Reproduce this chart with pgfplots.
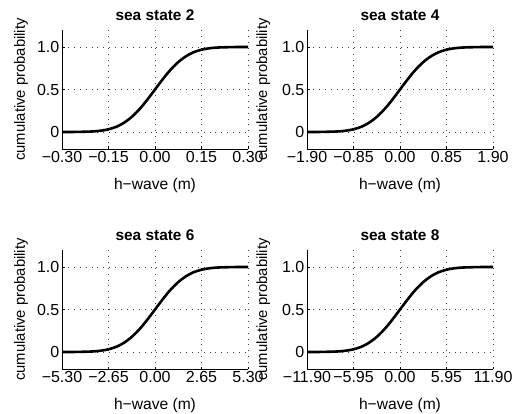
\documentclass[border=0pt]{standalone}
\usepackage{fontspec}
\setmainfont{Liberation Sans}
\usepackage{pgfplots}
\pgfplotsset{compat=1.18}

% shared look of the four panels (MATLAB-like, box off)
\pgfplotsset{
  cdf/.style={
    scale only axis,
    width=186pt, height=119pt,
    anchor=south west,
    axis lines=left,
    axis line style={-, line width=0.8pt, black},
    tick align=inside,
    major tick length=2.5pt,
    tick style={black, line width=0.6pt},
    ymin=-0.2, ymax=1.2,
    ytick={0,0.5,1}, yticklabels={0,0.5,1.0},
    xmajorgrids, ymajorgrids,
    grid style={black!75, line width=0.7pt, dash pattern=on 0.9pt off 5pt},
    clip=false,
    tick label style={font=\fontsize{16}{19}\selectfont},
    xticklabel style={inner sep=2.5pt},
    yticklabel style={inner sep=2.5pt},
    every axis x label/.style={at={(axis description cs:0.5,-0.31)}, anchor=center,
      font=\fontsize{15.6}{18}\selectfont},
    every axis y label/.style={at={(axis description cs:-0.22,0.5)}, anchor=center, rotate=90,
      font=\fontsize{14.8}{17}\selectfont},
    every axis title/.style={at={(axis description cs:0.5,1.126)}, anchor=center,
      font=\fontsize{15.4}{18}\selectfont\bfseries},
    xlabel={h−wave (m)},
    ylabel={cumulative probability},
  },
  cdfline/.style={black, line width=2.6pt, smooth},
}

\begin{document}
\begin{tikzpicture}
\path[use as bounding box] (0,0) rectangle (513pt,414pt);

% sea state 2
\begin{axis}[cdf, at={(62pt,265pt)}, title={sea state 2},
  xmin=-0.30, xmax=0.30,
  xtick={-0.30,-0.15,0,0.15,0.30},
  xticklabels={−0.30,−0.15,0.00,0.15,0.30}]
\addplot[cdfline] coordinates {
(-0.30,0.000)(-0.27,0.000)(-0.24,0.002)(-0.21,0.005)(-0.195,0.008)(-0.18,0.013)
(-0.165,0.021)(-0.15,0.032)(-0.135,0.048)(-0.12,0.069)(-0.105,0.098)(-0.09,0.134)
(-0.075,0.178)(-0.06,0.230)(-0.045,0.289)(-0.03,0.356)(-0.015,0.427)(0,0.500)
(0.015,0.573)(0.03,0.644)(0.045,0.711)(0.06,0.770)(0.075,0.822)(0.09,0.866)
(0.105,0.902)(0.12,0.931)(0.135,0.952)(0.15,0.968)(0.165,0.979)(0.18,0.987)
(0.195,0.992)(0.21,0.995)(0.24,0.998)(0.27,1.000)(0.30,1.000)};
\end{axis}

% sea state 4
\begin{axis}[cdf, at={(307pt,265pt)}, title={sea state 4},
  every axis y label/.append style={at={(axis description cs:-0.235,0.5)}},
  xmin=-1.90, xmax=1.90,
  xtick={-1.90,-0.95,0,0.95,1.90},
  xticklabels={−1.90,−0.85,0.00,0.85,1.90}]
\addplot[cdfline] coordinates {
(-1.90,0.000)(-1.71,0.000)(-1.52,0.002)(-1.33,0.005)(-1.235,0.008)(-1.14,0.013)
(-1.045,0.021)(-0.95,0.032)(-0.855,0.048)(-0.76,0.069)(-0.665,0.098)(-0.57,0.134)
(-0.475,0.178)(-0.38,0.230)(-0.285,0.289)(-0.19,0.356)(-0.095,0.427)(0,0.500)
(0.095,0.573)(0.19,0.644)(0.285,0.711)(0.38,0.770)(0.475,0.822)(0.57,0.866)
(0.665,0.902)(0.76,0.931)(0.855,0.952)(0.95,0.968)(1.045,0.979)(1.14,0.987)
(1.235,0.992)(1.33,0.995)(1.52,0.998)(1.71,1.000)(1.90,1.000)};
\end{axis}

% sea state 6
\begin{axis}[cdf, at={(62pt,45pt)}, title={sea state 6},
  xmin=-5.30, xmax=5.30,
  xtick={-5.30,-2.65,0,2.65,5.30},
  xticklabels={−5.30,−2.65,0.00,2.65,5.30}]
\addplot[cdfline] coordinates {
(-5.30,0.000)(-4.77,0.000)(-4.24,0.002)(-3.71,0.005)(-3.445,0.008)(-3.18,0.013)
(-2.915,0.021)(-2.65,0.032)(-2.385,0.048)(-2.12,0.069)(-1.855,0.098)(-1.59,0.134)
(-1.325,0.178)(-1.06,0.230)(-0.795,0.289)(-0.53,0.356)(-0.265,0.427)(0,0.500)
(0.265,0.573)(0.53,0.644)(0.795,0.711)(1.06,0.770)(1.325,0.822)(1.59,0.866)
(1.855,0.902)(2.12,0.931)(2.385,0.952)(2.65,0.968)(2.915,0.979)(3.18,0.987)
(3.445,0.992)(3.71,0.995)(4.24,0.998)(4.77,1.000)(5.30,1.000)};
\end{axis}

% sea state 8
\begin{axis}[cdf, at={(307pt,45pt)}, title={sea state 8},
  every axis y label/.append style={at={(axis description cs:-0.235,0.5)}},
  xmin=-11.90, xmax=11.90,
  xtick={-11.90,-5.95,0,5.95,11.90},
  xticklabels={−11.90,−5.95,0.00,5.95,11.90}]
\addplot[cdfline] coordinates {
(-11.90,0.000)(-10.71,0.000)(-9.52,0.002)(-8.33,0.005)(-7.735,0.008)(-7.14,0.013)
(-6.545,0.021)(-5.95,0.032)(-5.355,0.048)(-4.76,0.069)(-4.165,0.098)(-3.57,0.134)
(-2.975,0.178)(-2.38,0.230)(-1.785,0.289)(-1.19,0.356)(-0.595,0.427)(0,0.500)
(0.595,0.573)(1.19,0.644)(1.785,0.711)(2.38,0.770)(2.975,0.822)(3.57,0.866)
(4.165,0.902)(4.76,0.931)(5.355,0.952)(5.95,0.968)(6.545,0.979)(7.14,0.987)
(7.735,0.992)(8.33,0.995)(9.52,0.998)(10.71,1.000)(11.90,1.000)};
\end{axis}
\end{tikzpicture}
\end{document}
